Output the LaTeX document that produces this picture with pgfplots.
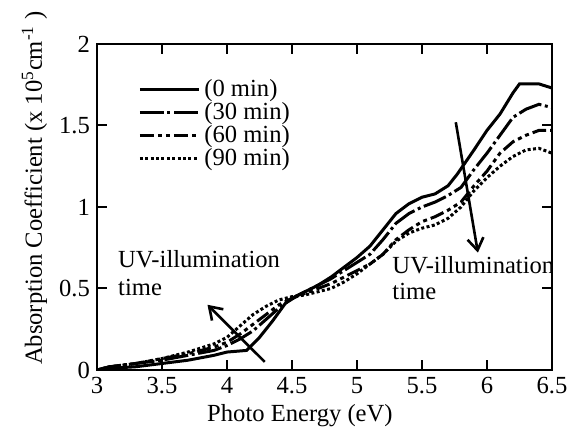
\documentclass[border=0pt]{standalone}
\usepackage{pgfplots}
\pgfplotsset{compat=1.18}
\usepackage{fontspec}
\setmainfont{Liberation Serif}
\usetikzlibrary{arrows.meta}
\begin{document}
\begin{tikzpicture}[font=\fontsize{12.3}{14}\selectfont]
\useasboundingbox (-48.5pt,-30.5pt) rectangle (236pt,185pt);
\begin{axis}[
  scale only axis,
  width=227.5pt, height=163pt,
  xmin=3, xmax=6.5, ymin=0, ymax=2,
  xtick={3,3.5,4,4.5,5,5.5,6,6.5},
  ytick={0,0.5,1,1.5,2},
  /pgf/number format/assume math mode=true,
  tick align=inside,
  major tick length=5pt,
  every tick/.style={black, line width=1pt},
  axis line style={line width=1pt},
  xlabel={Photo Energy (eV)},
  ylabel={Absorption Coefficient (x 10\textsuperscript{5}cm\textsuperscript{-1} )},
  xlabel style={at={(axis description cs:0.446,0)}, anchor=base, yshift=-26pt},
  ylabel style={at={(axis description cs:-0.121,0.558)}, anchor=base},
  legend style={draw=none, fill=none, at={(axis description cs:0.09,0.905)}, anchor=north west,
    row sep=-2.5pt, inner sep=0pt, font=\fontsize{12.3}{14}\selectfont},
  legend cell align=left,
  legend image code/.code={\draw[#1] (0pt,0pt) -- (29.5pt,0pt);},
]
\addplot[black, line width=1.5pt] coordinates {
(3.0,0.0) (3.1,0.01) (3.3,0.02) (3.5,0.04) (3.7,0.06) (3.9,0.09) (4.0,0.11) (4.15,0.12)
(4.25,0.2) (4.35,0.3) (4.45,0.41) (4.55,0.46) (4.7,0.52) (4.8,0.57) (4.9,0.63) (5.0,0.69)
(5.1,0.76) (5.2,0.86) (5.3,0.96) (5.4,1.02) (5.5,1.06) (5.6,1.08) (5.7,1.13) (5.77,1.2)
(5.9,1.35) (6.0,1.47) (6.1,1.57) (6.2,1.70) (6.25,1.755) (6.4,1.755) (6.5,1.73)};
\addlegendentry{(0 min)}
\addplot[black, line width=1.5pt, dash pattern=on 12pt off 1.8pt on 1.5pt off 1.8pt] coordinates {
(3.0,0.0) (3.1,0.02) (3.3,0.04) (3.5,0.06) (3.7,0.09) (3.9,0.12) (4.0,0.15) (4.1,0.19)
(4.2,0.24) (4.3,0.31) (4.4,0.38) (4.5,0.44) (4.6,0.48) (4.7,0.52) (4.8,0.56) (4.9,0.61)
(5.0,0.66) (5.1,0.71) (5.2,0.80) (5.3,0.90) (5.4,0.96) (5.5,1.00) (5.6,1.03) (5.7,1.07)
(5.8,1.12) (5.9,1.23) (6.0,1.33) (6.1,1.44) (6.2,1.55) (6.3,1.60) (6.4,1.63) (6.5,1.61)};
\addlegendentry{(30 min)}
\addplot[black, line width=1.5pt, dash pattern=on 7pt off 2pt on 2pt off 2pt on 2pt off 2pt] coordinates {
(3.0,0.0) (3.1,0.02) (3.3,0.04) (3.5,0.07) (3.7,0.10) (3.9,0.14) (4.0,0.17) (4.1,0.22)
(4.2,0.28) (4.3,0.34) (4.4,0.40) (4.5,0.44) (4.6,0.47) (4.7,0.50) (4.8,0.53) (4.9,0.57)
(5.0,0.61) (5.1,0.65) (5.2,0.71) (5.3,0.80) (5.4,0.86) (5.5,0.91) (5.6,0.94) (5.7,0.98)
(5.8,1.03) (5.9,1.13) (6.0,1.22) (6.1,1.33) (6.2,1.40) (6.3,1.44) (6.4,1.47) (6.5,1.47)};
\addlegendentry{(60 min)}
\addplot[black, line width=1.5pt, dash pattern=on 1.5pt off 1.2pt] coordinates {
(3.0,0.0) (3.1,0.02) (3.3,0.04) (3.5,0.07) (3.7,0.11) (3.9,0.16) (4.0,0.20) (4.1,0.27)
(4.2,0.34) (4.3,0.39) (4.4,0.43) (4.5,0.45) (4.6,0.46) (4.7,0.48) (4.8,0.50) (4.9,0.54)
(5.0,0.59) (5.1,0.65) (5.2,0.71) (5.3,0.79) (5.4,0.84) (5.5,0.87) (5.6,0.89) (5.7,0.93)
(5.8,1.00) (5.9,1.10) (6.0,1.18) (6.1,1.25) (6.2,1.31) (6.3,1.35) (6.4,1.36) (6.5,1.33)};
\addlegendentry{(90 min)}
\draw[line width=1.3pt, -{Straight Barb[length=6pt,width=8pt]}] (axis cs:5.76,1.52) -- (axis cs:5.93,0.72);
\draw[line width=1.3pt, -{Straight Barb[length=6pt,width=8pt]}] (axis cs:4.29,0.05) -- (axis cs:3.85,0.40);
\node[anchor=base west, inner sep=0pt] at (axis cs:3.16,0.63) {UV-illumination};
\node[anchor=base west, inner sep=0pt] at (axis cs:3.16,0.458) {time};
\node[anchor=base west, inner sep=0pt] at (axis cs:5.27,0.595) {UV-illumination};
\node[anchor=base west, inner sep=0pt] at (axis cs:5.27,0.43) {time};
\end{axis}
\end{tikzpicture}
\end{document}
